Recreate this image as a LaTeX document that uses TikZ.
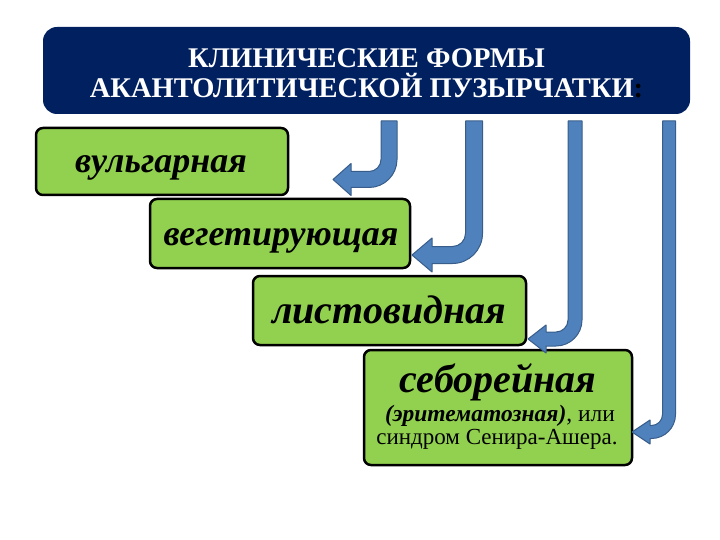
\documentclass[tikz,border=0pt]{standalone}
\usepackage{fontspec}
\setmainfont{Liberation Serif}
\definecolor{headblue}{HTML}{002060}
\definecolor{formgreen}{HTML}{92D050}
\definecolor{arrowfill}{HTML}{4F81BD}
\definecolor{arrowline}{HTML}{385D8A}
\tikzset{
  header/.style={fill=headblue, rounded corners=14pt, minimum width=647pt, minimum height=87pt, inner sep=0pt},
  headtext/.style={text=white, align=center, font=\fontsize{28.5}{30}\selectfont\bfseries},
  formbox/.style={draw=black, line width=2.5pt, fill=formgreen, rounded corners=7pt, inner sep=0pt},
  formname/.style={anchor=base, font=\fontsize{#1}{#1}\selectfont\bfseries\itshape},
  formline/.style={anchor=base, font=\fontsize{#1}{#1}\selectfont},
  bentarrow/.style={fill=arrowfill, draw=arrowline, line width=1pt, line join=round}
}
% block arrow bent to the left: shaft x, width, top y, row y, head base x, tip x, head half height, outer radius
\newcommand\bentarrow[8]{%
  \pgfmathsetmacro\arrL{#1-#2/2}\pgfmathsetmacro\arrR{#1+#2/2}%
  \pgfmathsetmacro\arrT{#4-#2/2}\pgfmathsetmacro\arrB{#4+#2/2}%
  \pgfmathsetmacro\arrRi{#8-#2}%
  \draw[bentarrow] (\arrL,#3) -- (\arrL,{\arrT-\arrRi})
    .. controls (\arrL,{\arrT-0.45*\arrRi}) and ({\arrL-0.45*\arrRi},\arrT) .. ({\arrL-\arrRi},\arrT)
    -- (#5,\arrT) -- (#5,{#4-#7}) -- (#6,#4) -- (#5,{#4+#7}) -- (#5,\arrB)
    -- ({\arrR-#8},\arrB)
    .. controls ({\arrR-0.45*#8},\arrB) and (\arrR,{\arrB-0.45*#8}) .. (\arrR,{\arrB-#8})
    -- (\arrR,#3) -- cycle;}

\begin{document}
\begin{tikzpicture}[x=1pt,y=-1pt]
  \useasboundingbox (0,0) rectangle (720,540);

  % title
  \node[header] (title) at (366.5,70.5) {};
  \node[headtext] (titletext) at (366.5,73) {КЛИНИЧЕСКИЕ ФОРМЫ\\АКАНТОЛИТИЧЕСКОЙ ПУЗЫРЧАТКИ{\color{black}:}};

  % forms
  \node[formbox, minimum width=252pt, minimum height=67pt] (vulg) at (162,161.5) {};
  \node[formbox, minimum width=260pt, minimum height=69pt] (veget) at (280,233.5) {};
  \node[formbox, minimum width=273pt, minimum height=69pt] (list) at (389.5,310.5) {};
  \node[formbox, minimum width=268pt, minimum height=115pt] (sebor) at (498,407.5) {};
  \node[formname=36] (vulgname) at (161,173) {вульгарная};
  \node[formname=36] (vegetname) at (281,245) {вегетирующая};
  \node[formname=40] (listname) at (389,323) {листовидная};
  \node[formname=40] (sebname) at (498,392) {себорейная};
  \node[formline=23.5] (sebalt) at (500,421) {{\bfseries\itshape (эритематозная)}, или};
  \node[formline=23] (sebsyn) at (497,444) {синдром Сенира-Ашера.};

  % arrows from the title
  \bentarrow{389}{16}{121}{179.5}{351}{333}{16}{28}
  \bentarrow{474}{17}{121}{255}{432}{412}{17}{30}
  \bentarrow{575}{14}{121}{339}{546}{528}{14}{26}
  \bentarrow{669}{13}{121}{432}{650}{632}{12}{24}
\end{tikzpicture}
\end{document}
